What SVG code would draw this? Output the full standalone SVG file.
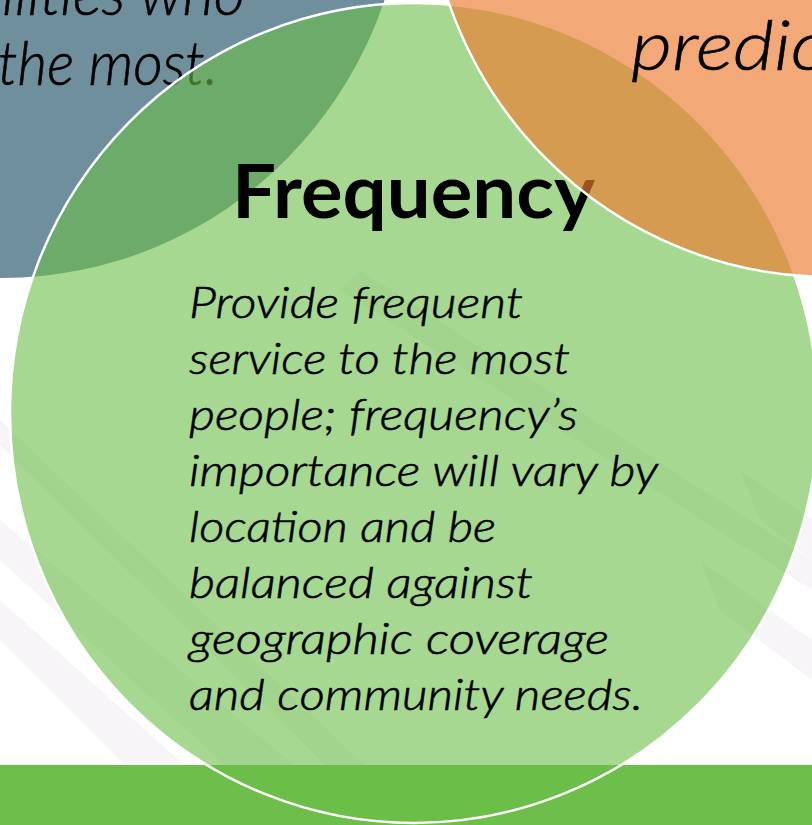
<svg xmlns="http://www.w3.org/2000/svg" width="812" height="825" viewBox="0 0 812 825">
  <style>
    .body { font-family: Lato, "Open Sans", "Liberation Sans", sans-serif; font-style: italic; font-weight: 300; fill: #000; stroke: #000; stroke-width: 0.6; }
    .title { font-family: Lato, "Open Sans", "Liberation Sans", sans-serif; font-weight: bold; fill: #000; }
    .stripe { fill: #ece6ec; opacity: 0.4; }
    .ring { stroke: #ffffff; stroke-width: 2.5; }
  </style>
  <g id="background">
    <rect x="0" y="0" width="812" height="825" fill="#ffffff"/>
    <polygon class="stripe" points="0,520 0,560 230,770 300,770"/>
    <polygon class="stripe" points="0,600 0,640 130,770 190,770"/>
    <polygon class="stripe" points="0,420 0,445 330,770 370,770"/>
    <polygon class="stripe" points="740,470 812,520 812,560 760,520"/>
    <polygon class="stripe" points="700,560 812,640 812,680 720,610"/>
    <polygon class="stripe" points="360,270 812,560 812,590 340,290"/>
    <rect id="band" x="0" y="765" width="812" height="60" fill="#6dbe4a"/>
  </g>
  <g id="node-blue">
    <ellipse cx="2" cy="-132" rx="404" ry="410" fill="#6f8f9d"/>
    <text class="body" x="2" y="15" font-size="61" textLength="243" lengthAdjust="spacingAndGlyphs">ilities who</text>
    <text class="body" x="-2" y="85" font-size="61" textLength="220" lengthAdjust="spacingAndGlyphs">the most.</text>
  </g>
  <g id="node-frequency">
    <ellipse class="ring" cx="414" cy="413" rx="404" ry="410" fill="#6bbe48" fill-opacity="0.6"/>
    <text class="title" x="232" y="218" font-size="75" textLength="363" lengthAdjust="spacingAndGlyphs">Frequency</text>
    <text class="body" font-size="43">
      <tspan x="189" y="318" textLength="334" lengthAdjust="spacingAndGlyphs">Provide frequent</tspan>
      <tspan x="189" y="374" textLength="381" lengthAdjust="spacingAndGlyphs">service to the most</tspan>
      <tspan x="189" y="430" textLength="389" lengthAdjust="spacingAndGlyphs">people; frequency’s</tspan>
      <tspan x="189" y="486" textLength="468" lengthAdjust="spacingAndGlyphs">importance will vary by</tspan>
      <tspan x="189" y="542" textLength="307" lengthAdjust="spacingAndGlyphs">location and be</tspan>
      <tspan x="189" y="598" textLength="344" lengthAdjust="spacingAndGlyphs">balanced against</tspan>
      <tspan x="189" y="654" textLength="420" lengthAdjust="spacingAndGlyphs">geographic coverage</tspan>
      <tspan x="189" y="710" textLength="454" lengthAdjust="spacingAndGlyphs">and community needs.</tspan>
    </text>
  </g>
  <g id="node-orange">
    <ellipse class="ring" cx="830" cy="-133" rx="404" ry="410" fill="#ed7d31" fill-opacity="0.66"/>
    <text class="body" x="631" y="70" font-size="70" textLength="196" lengthAdjust="spacingAndGlyphs">predic</text>
  </g>
  <g id="connectors"/>
</svg>
